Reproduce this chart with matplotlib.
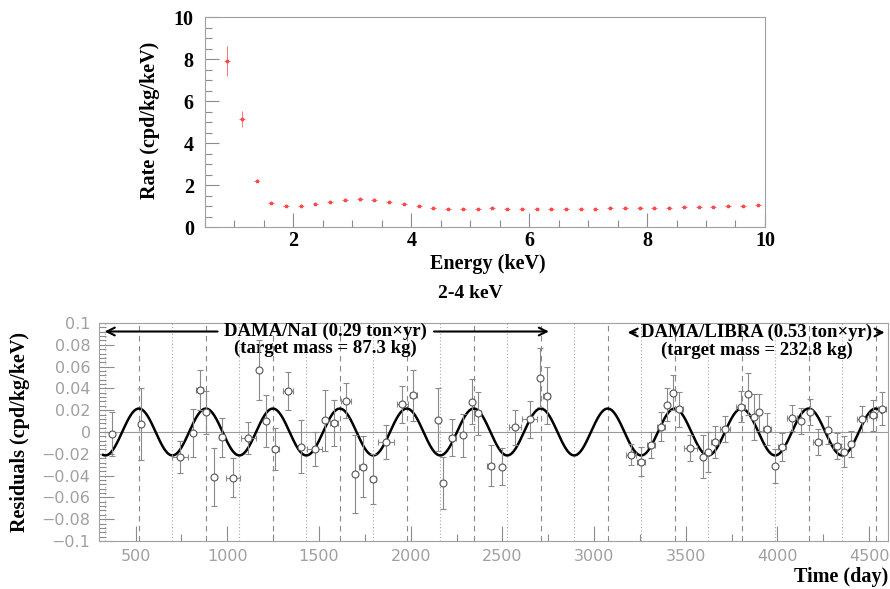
import numpy as np
import matplotlib
matplotlib.use("Agg")
import matplotlib.pyplot as plt
from matplotlib.ticker import MultipleLocator

# --- top panel: energy spectrum (0.25 keV bins) ---
energy = np.arange(0.875, 10.0, 0.25)
rate = [7.91, 5.13, 2.21, 1.16, 1.00, 0.99, 1.08, 1.21, 1.27, 1.34,
        1.27, 1.21, 1.11, 1.00, 0.92, 0.86, 0.86, 0.86, 0.89, 0.86,
        0.88, 0.88, 0.86, 0.88, 0.86, 0.88, 0.89, 0.91, 0.92, 0.92,
        0.92, 0.94, 0.96, 0.97, 0.99, 1.00, 1.03]
rate_err = [0.72, 0.39, 0.08] + [0.03] * 34

# --- bottom panel: residuals 2-4 keV ---
day = [369, 531, 740, 815, 849, 886, 926, 969, 1031, 1115, 1173, 1213, 1262,
       1331, 1402, 1478, 1535, 1581, 1646, 1695, 1739, 1794, 1864, 1955, 2015,
       2150, 2178, 2227, 2288, 2334, 2366, 2437, 2499, 2568, 2650, 2704, 2741,
       3200, 3254, 3310, 3363, 3399, 3432, 3464, 3526, 3592, 3622, 3659, 3715,
       3799, 3841, 3872, 3901, 3941, 3985, 4026, 4081, 4127, 4177, 4219, 4277,
       4326, 4362, 4404, 4462, 4522, 4568]
resid = [-0.002, 0.007, -0.023, -0.001, 0.0385, 0.018, -0.0415, -0.005, -0.042,
         -0.0055, 0.057, 0.0104, -0.0156, 0.0376, -0.0135, -0.0156, 0.0107, 0.008,
         0.0286, -0.0387, -0.0318, -0.043, -0.0092, 0.0255, 0.0335, 0.0113,
         -0.0465, -0.0052, -0.0032, 0.0279, 0.017, -0.031, -0.0318, 0.0043,
         0.0116, 0.0498, 0.0333,
         -0.0207, -0.0272, -0.012, 0.0049, 0.025, 0.036, 0.0208, -0.0147,
         -0.0226, -0.0183, -0.0092, 0.0025, 0.0232, 0.0348, 0.0135, 0.0183,
         0.0028, -0.0312, -0.0135, 0.0126, 0.0101, 0.0186, -0.0089, 0.0018,
         -0.0128, -0.018, -0.0113, 0.0119, 0.0153, 0.0214]
resid_err = [0.020, 0.033, 0.015, 0.022, 0.018, 0.020, 0.0265, 0.018, 0.018,
             0.0145, 0.0275, 0.024, 0.019, 0.0176, 0.0245, 0.016, 0.028, 0.021,
             0.016, 0.036, 0.028, 0.023, 0.016, 0.017, 0.023, 0.029, 0.024,
             0.017, 0.020, 0.021, 0.020, 0.019, 0.017, 0.016, 0.017, 0.027, 0.026,
             0.010, 0.013, 0.012, 0.013, 0.015, 0.016, 0.016, 0.012, 0.020,
             0.018, 0.015, 0.012, 0.014, 0.019, 0.021, 0.017, 0.015, 0.016,
             0.013, 0.012, 0.012, 0.012, 0.012, 0.013, 0.012, 0.014, 0.012,
             0.012, 0.014, 0.015]
day_err = [0, 0, 44, 0, 20, 0, 0, 15, 36, 41, 0, 0, 20, 27, 0, 41, 0, 20, 27,
           0, 20, 15, 44, 30, 20, 0, 0, 20, 0, 0, 20, 20, 0, 33, 41, 0, 20,
           27, 22, 22, 22, 0, 0, 22, 33, 0, 0, 22, 27, 27, 0, 0, 0, 22, 0,
           22, 27, 0, 0, 27, 0, 22, 0, 0, 27, 22, 22]

# cosine fit parameters
amplitude = 0.0215
period = 365.25
phase = 152.5
fit_start, fit_end = 323, 4570

serif = ["Liberation Serif", "DejaVu Serif"]
grey = "#8c8c8c"

fig = plt.figure(figsize=(8.9, 5.89), dpi=100)

# ---------------- top panel ----------------
ax1 = fig.add_axes([0.2303, 0.6146, 0.6292, 0.3565])
ax1.errorbar(energy, rate, yerr=rate_err, xerr=0.05, fmt="*", ms=2.5,
             color="#ff4a4a", ecolor="#ff7070", elinewidth=0.7, capsize=0)
ax1.set_xlim(0.5, 10)
ax1.set_ylim(0, 10)
ax1.xaxis.set_major_locator(MultipleLocator(2))
ax1.xaxis.set_minor_locator(MultipleLocator(0.5))
ax1.yaxis.set_major_locator(MultipleLocator(2))
ax1.yaxis.set_minor_locator(MultipleLocator(0.5))
ax1.tick_params(which="both", direction="in", color=grey, top=False, right=False)
ax1.tick_params(which="major", length=10, width=0.8)
ax1.tick_params(axis="x", which="major", pad=3)
ax1.tick_params(axis="y", which="major", pad=8)
ax1.tick_params(which="minor", length=5, width=0.8)
for lab in ax1.get_xticklabels() + ax1.get_yticklabels():
    lab.set_family(serif)
    lab.set_fontweight("bold")
    lab.set_fontsize(14.5)
for sp in ax1.spines.values():
    sp.set_color("#a0a0a0")
    sp.set_linewidth(0.8)
fig.text(0.548, 0.551, "Energy (keV)", ha="center", va="center",
         family=serif, fontweight="bold", fontsize=14.5)
fig.text(0.169, 0.796, "Rate (cpd/kg/keV)", ha="center", va="center",
         rotation=90, family=serif, fontweight="bold", fontsize=14.5)
fig.text(0.528, 0.5025, "2-4 keV", ha="center", va="center",
         family=serif, fontweight="bold", fontsize=14)

# ---------------- bottom panel ----------------
ax2 = fig.add_axes([0.1112, 0.0815, 0.8865, 0.3701])
ax2.set_xlim(300, 4603)
ax2.set_ylim(-0.1, 0.1)

years = np.arange(0, 13)
for k in years:
    ax2.axvline(phase + k * period, color="#8a8a8a", lw=0.8, ls=(0, (5, 4)), zorder=1)
    ax2.axvline(phase + period / 2 + k * period, color="#aaaaaa", lw=0.8,
                ls=(0, (1, 2)), zorder=1)
ax2.axhline(0, color="#999999", lw=0.8, zorder=1)

t = np.linspace(fit_start, fit_end, 2000)
ax2.plot(t, amplitude * np.cos(2 * np.pi / period * (t - phase)),
         color="black", lw=1.8, zorder=3)

ax2.errorbar(day, resid, yerr=resid_err, xerr=day_err, fmt="o", ms=5,
             mfc="white", mec="#555555", mew=0.8, ecolor="#8a8a8a",
             elinewidth=0.8, capsize=2.5, capthick=0.8, zorder=4)

ax2.xaxis.set_major_locator(MultipleLocator(500))
ax2.xaxis.set_minor_locator(MultipleLocator(250))
ax2.yaxis.set_major_locator(MultipleLocator(0.02))
ax2.yaxis.set_minor_locator(MultipleLocator(0.004))
ax2.tick_params(which="both", direction="in", color=grey, top=False, right=False,
                labelcolor="#a0a0a0", labelsize=11.5)
ax2.tick_params(which="major", length=11, width=0.8, pad=6)
ax2.tick_params(which="minor", length=5, width=0.8)
ax2.set_yticks(np.linspace(-0.1, 0.1, 11))
ax2.set_yticklabels(["\u22120.1", "\u22120.08", "\u22120.06", "\u22120.04", "\u22120.02",
                     "0", "0.02", "0.04", "0.06", "0.08", "0.1"])
for sp in ax2.spines.values():
    sp.set_color("#a0a0a0")
    sp.set_linewidth(0.8)

fig.text(0.0225, 0.2665, "Residuals (cpd/kg/keV)", ha="center", va="center",
         rotation=90, family=serif, fontweight="bold", fontsize=14.5)
fig.text(0.998, 0.02, "Time (day)", ha="right", va="center",
         family=serif, fontweight="bold", fontsize=14.5)

# labels for the two experiments
txt = dict(ha="center", va="center", family=serif, fontweight="bold", fontsize=13.5)
ax2.text(1537, 0.0922, "DAMA/NaI (0.29 ton\u00d7yr)", **txt)
ax2.text(1537, 0.0764, "(target mass = 87.3 kg)", **txt)
ax2.text(3886, 0.0913, "DAMA/LIBRA (0.53 ton\u00d7yr)", **txt)
ax2.text(3886, 0.0748, "(target mass = 232.8 kg)", **txt)
arr = dict(arrowstyle="->", lw=1.5, color="black", mutation_scale=14)
ax2.annotate("", xy=(316, 0.0922), xytext=(962, 0.0922), arrowprops=arr)
ax2.annotate("", xy=(2769, 0.0922), xytext=(2112, 0.0922), arrowprops=arr)
ax2.annotate("", xy=(3168, 0.0913), xytext=(3242, 0.0913), arrowprops=arr)
ax2.annotate("", xy=(4600, 0.0913), xytext=(4528, 0.0913), arrowprops=arr)

fig.savefig("out.png", dpi=100)
